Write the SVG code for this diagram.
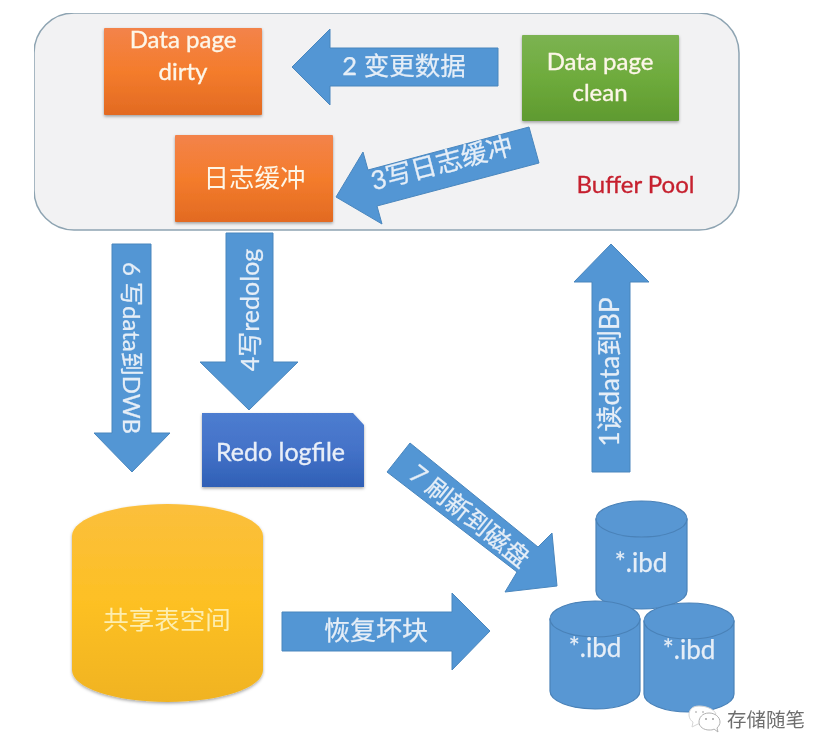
<svg xmlns="http://www.w3.org/2000/svg" width="832" height="756" viewBox="0 0 832 756">
<style>
.lat{font-family:"Lato","Noto Sans","Noto Sans CJK SC",sans-serif;fill:#fdf6e8;stroke:#fdf6e8;stroke-width:.35;text-anchor:middle}
.cjk{font-family:"Noto Sans CJK SC",sans-serif;fill:#fdf6e8;text-anchor:middle}
.lab{font-family:"Lato","Noto Sans CJK SC",sans-serif;fill:#e6eef7;stroke:#e6eef7;stroke-width:.25;text-anchor:middle}
.arrow{fill:#5296d4;stroke:#4a86bd;stroke-width:1}
.cyl{fill:#5997d3;stroke:#4a82b8;stroke-width:1.2}
</style>
<defs>
<linearGradient id="orange" x1="0" y1="0" x2="0" y2="1"><stop offset="0" stop-color="#f3834a"/><stop offset="0.5" stop-color="#f47c2c"/><stop offset="1" stop-color="#e26a22"/></linearGradient>
<linearGradient id="green" x1="0" y1="0" x2="0" y2="1"><stop offset="0" stop-color="#7cb352"/><stop offset="0.5" stop-color="#6eab3c"/><stop offset="1" stop-color="#5f9a30"/></linearGradient>
<linearGradient id="blue" x1="0" y1="0" x2="0" y2="1"><stop offset="0" stop-color="#4d7dd0"/><stop offset="0.5" stop-color="#4472c8"/><stop offset="1" stop-color="#2f60b6"/></linearGradient>
<linearGradient id="yellow" x1="0" y1="0" x2="0" y2="1"><stop offset="0" stop-color="#fbbf3c"/><stop offset="0.5" stop-color="#fdc024"/><stop offset="1" stop-color="#f0b323"/></linearGradient>
<filter id="shadow" x="-10%" y="-10%" width="120%" height="125%"><feDropShadow dx="0" dy="1.5" stdDeviation="1.5" flood-color="#000" flood-opacity="0.35"/></filter>
<filter id="soft" x="0" y="0" width="100%" height="100%"><feGaussianBlur stdDeviation="0.5"/></filter>
</defs>
<rect width="832" height="756" fill="#ffffff"/>
<g filter="url(#soft)">
<g id="buffer-pool">
<rect x="34" y="13" width="705" height="217" rx="40" ry="40" fill="#f2f2f3" stroke="#8ea4b2" stroke-width="1.5"/>
<text x="635.500" y="193" font-size="24" style="font-family:'Lato',sans-serif;fill:#c6202e;stroke:#c6202e;stroke-width:.3;text-anchor:middle">Buffer Pool</text>
</g>
<g id="data-page-dirty">
<rect x="104" y="28" width="158" height="87" rx="1" fill="url(#orange)" filter="url(#shadow)"/>
<text class="lat" x="183" y="48" font-size="24">Data page</text>
<text class="lat" x="183" y="80" font-size="24">dirty</text>
</g>
<g id="data-page-clean">
<rect x="522" y="35" width="157" height="86" rx="1" fill="url(#green)" filter="url(#shadow)"/>
<text class="lat" x="600" y="70" font-size="24">Data page</text>
<text class="lat" x="600" y="101" font-size="24">clean</text>
</g>
<g id="log-buffer">
<rect x="175" y="135" width="158" height="87" rx="1" fill="url(#orange)" filter="url(#shadow)"/>
<text class="cjk" x="254.500" y="187" font-size="25.500">日志缓冲</text>
</g>
<g id="redo-logfile">
<path d="M202 413H353L364 425V487H202Z" fill="url(#blue)" filter="url(#shadow)"/>
<text class="lat" x="280.500" y="461" font-size="25" style="fill:#e8eef8;stroke:#e8eef8">Redo logfile</text>
</g>
<g id="shared-tablespace">
<path d="M72 536C72 518 115 504 167.500 504S263 518 263 536V670C263 688 220 702 167.500 702S72 688 72 670Z" fill="url(#yellow)" filter="url(#shadow)"/>
<text class="cjk" x="167" y="629" font-size="25.500" style="fill:#fdeeb0">共享表空间</text>
</g>
<g id="ibd-top">
<path class="cyl" d="M596 519V591C596 601 616 609 641.500 609S687 601 687 591V519Z"/>
<ellipse class="cyl" cx="641.500" cy="519" rx="45.500" ry="18"/>
<text class="lab" x="641" y="572" font-size="26">*.ibd</text>
</g>
<g id="ibd-left">
<path class="cyl" d="M550 619V691C550 701 570 709 595 709S640 701 640 691V619Z"/>
<ellipse class="cyl" cx="595" cy="619" rx="45" ry="18"/>
<text class="lab" x="595" y="657" font-size="26">*.ibd</text>
</g>
<g id="ibd-right">
<path class="cyl" d="M644 621V694C644 704 664 712 689 712S734 704 734 694V621Z"/>
<ellipse class="cyl" cx="689" cy="621" rx="45" ry="18"/>
<text class="lab" x="689" y="659" font-size="26">*.ibd</text>
</g>
<g id="connectors">
<polygon class="arrow" points="292,67 330,29 330,48 498,48 498,86 330,86 330,105"/>
<text class="lab" x="404" y="75" font-size="25.500">2 变更数据</text>
<polygon class="arrow" points="336,197 363,152 368,170 529,127 539,163 377,206 382,224"/>
<text class="lab" transform="translate(444,172) rotate(-14.700)" font-size="26">3写日志缓冲</text>
<polygon class="arrow" points="112,244 151,244 151,433 170,433 132,472 94,433 112,433"/>
<text class="lab" transform="translate(123,348) rotate(90)" font-size="24">6 写data到DWB</text>
<polygon class="arrow" points="226,233 273,233 273,362 298,362 249,410 200,362 226,362"/>
<text class="lab" transform="translate(259,310) rotate(-90)" font-size="25">4写redolog</text>
<polygon class="arrow" points="592,472 630,472 630,282 649,282 611,244 574,282 592,282"/>
<text class="lab" transform="translate(619,372) rotate(-90)" font-size="26">1读data到BP</text>
<polygon class="arrow" points="410,443 387,472 517,572 505,592 557,586 552,533 538,547"/>
<text class="lab" transform="translate(464,523) rotate(39)" font-size="25">7 刷新到磁盘</text>
<polygon class="arrow" points="282,612 452,612 452,593 490,631 452,670 452,651 282,651"/>
<text class="lab" x="376" y="640" font-size="26">恢复坏块</text>
</g>
<g id="watermark">
<path d="M699 706C691 706 689 711 689 715C689 718 691 721 693 722L692 727L698 724C701 724 704 724 706 723L716 714C714 709 706 706 699 706Z" fill="#ffffff" stroke="#d5d5d5" stroke-width="1"/>
<path d="M709 713C702 713 699 718 699 722C699 727 704 730 709 730C711 730 713 730 714 729L718 732L717 728C719 726 720 724 720 722C720 717 715 713 709 713Z" fill="#ffffff" stroke="#b0b0b0" stroke-width="1"/>
<circle cx="696" cy="712" r="1" fill="#c0c0c0"/><circle cx="703" cy="712" r="1" fill="#c0c0c0"/><circle cx="706" cy="719" r="1" fill="#a0a0a0"/><circle cx="713" cy="719" r="1" fill="#a0a0a0"/>
<text x="766" y="727" font-size="19.500" style="font-family:'Noto Sans CJK SC',sans-serif;fill:#6e6e6e;text-anchor:middle">存储随笔</text>
</g>
</g>
</svg>
